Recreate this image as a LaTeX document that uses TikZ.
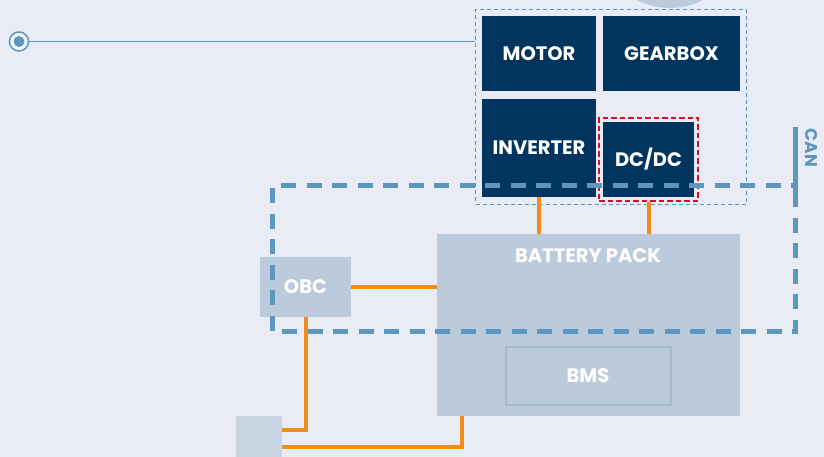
\documentclass[tikz,border=0pt]{standalone}
\usepackage{fontspec}
\setmainfont{Poppins}
\definecolor{bg}{HTML}{E9ECF4}
\definecolor{navy}{HTML}{00355F}
\definecolor{lightbox}{HTML}{BCCBDB}
\definecolor{bmsborder}{HTML}{A7B8CD}
\definecolor{canblue}{HTML}{5B97BF}
\definecolor{wire}{HTML}{F28C1B}
\definecolor{redframe}{HTML}{D2102A}
\definecolor{smallbox}{HTML}{C8D4E2}
\tikzset{
  navybox/.style={fill=navy, text=white, font=\bfseries\fontsize{19.5}{19.5}\selectfont, inner sep=0pt},
  greybox/.style={fill=lightbox, text=white, font=\bfseries\fontsize{19.5}{19.5}\selectfont, inner sep=0pt},
  wireline/.style={draw=wire, line width=4pt},
  canbus/.style={draw=canblue, line width=5pt, dash pattern=on 15pt off 10.5pt},
}
\begin{document}
\begin{tikzpicture}[x=1pt,y=-1pt]
\useasboundingbox (0,0) rectangle (824,457);
\fill[bg] (0,0) rectangle (824,457);
% top partial circle
\fill[lightbox] (670,-64) circle (72);
% thin dashed group box
\node[draw=canblue, line width=1pt, dash pattern=on 4pt off 3pt, minimum width=271pt, minimum height=194.5pt, inner sep=0pt] (group) at (611,107) {};
% left marker and line
\node[circle, draw=canblue, line width=1.5pt, fill=white!60!bg, minimum size=19pt, inner sep=0pt] (marker) at (19,41.5) {};
\fill[canblue] (marker.center) circle (5.5);
\coordinate (groupleft) at (group.west |- marker);
\draw[canblue, line width=1.3pt] (marker.east) -- (groupleft);
% components
\node[navybox, minimum width=114pt, minimum height=75pt] (motor) at (539,53.5) {MOTOR};
\node[navybox, minimum width=137pt, minimum height=75pt] (gearbox) at (671.5,53.5) {GEARBOX};
\node[navybox, minimum width=114pt, minimum height=98pt] (inverter) at (539,148) {INVERTER};
\node[navybox, minimum width=91pt, minimum height=75pt] (dcdc) at (648.5,159.5) {DC/DC};
\node[draw=redframe, line width=2.5pt, dash pattern=on 5.5pt off 3pt, minimum width=99pt, minimum height=83pt, inner sep=0pt] (dcdcframe) at (648.5,159.5) {};
\node[greybox, minimum width=91pt, minimum height=60pt] (obc) at (305.5,287) {OBC};
\node[fill=lightbox, minimum width=303pt, minimum height=181.5pt, inner sep=0pt] (battery) at (588.5,325) {};
\node[text=white, font=\bfseries\fontsize{19.5}{19.5}\selectfont, inner sep=0pt] (batterylabel) at (588,256) {BATTERY PACK};
\node[greybox, draw=bmsborder, line width=2pt, minimum width=165pt, minimum height=58pt] (bms) at (588,376) {BMS};
\node[fill=smallbox, minimum width=46pt, minimum height=60pt, inner sep=0pt] (port) at (259,446) {};
% wires
\coordinate (invdown) at (inverter.south |- battery.north);
\draw[wireline] (inverter.south) -- (invdown);
\coordinate (dcdown) at (dcdcframe.south |- battery.north);
\draw[wireline] (dcdcframe.south) -- (dcdown);
\coordinate (obcin) at (battery.west |- obc.east);
\draw[wireline] (obc.east) -- (obcin);
\coordinate (obcturn) at (obc.south |- 0,430);
\coordinate (portin1) at (port.east |- obcturn);
\draw[wireline] (obc.south) -- (obcturn) -- (portin1);
\coordinate (batout) at (462,415.75);
\coordinate (batturn) at (462,447);
\coordinate (portin2) at (port.east |- batturn);
\draw[wireline] (batout) -- (batturn) -- (portin2);
% CAN bus
\coordinate (cantop) at (795,127);
\coordinate (canbar) at (795,192);
\coordinate (canbr) at (795,331.5);
\coordinate (canbl) at (272.5,331.5);
\coordinate (cantl) at (272.5,186);
\coordinate (cantr) at (795,186);
\draw[canblue, line width=5pt] (cantop) -- (canbar);
\draw[canbus] (canbar) -- (canbr) -- (canbl) -- (cantl) -- (cantr);
\node[text=canblue, font=\bfseries\fontsize{17}{17}\selectfont, rotate=-90, inner sep=0pt] (canlabel) at (811,148) {CAN};
\end{tikzpicture}
\end{document}
